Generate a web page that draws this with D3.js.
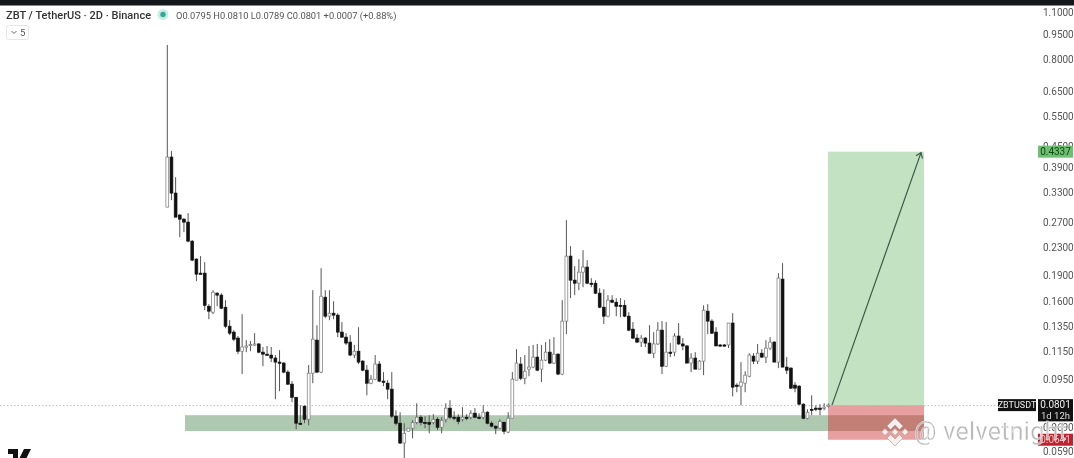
<!DOCTYPE html>
<html><head><meta charset="utf-8">
<script src="https://cdn.jsdelivr.net/npm/d3@7"></script>
<style>
html,body{margin:0;padding:0;background:#fff;overflow:hidden}
svg{display:block;filter:blur(0.45px)}
text{font-family:Roboto,"Liberation Sans",sans-serif}
</style></head><body>
<svg id="c" width="1074" height="458"></svg>
<script>
const opens=[.2997,.4184,.3291,.2843,.2766,.2712,.2389,.2119,.1930,.1930,.1548,.1488,.1689,.1667,.1538,.1355,.1303,.1252,.1147,.1180,.1196,.1200,.1204,.1140,.1125,.1118,.1096,.1067,.1060,.0998,.0921,.0844,.0710,.0795,.0729,.0991,.1235,.0998,.1644,.1449,.1478,.1459,.1303,.1260,.1219,.1118,.1147,.1074,.1011,.0927,.0952,.1053,.0940,.0927,.0891,.0744,.0710,.0622,.0673,.0687,.0714,.0739,.0714,.0714,.0714,.0729,.0691,.0729,.0785,.0739,.0739,.0729,.0739,.0739,.0759,.0739,.0739,.0764,.0710,.0696,.0687,.0714,.0669,.0734,.0946,.1053,.0958,.1018,.1032,.1103,.1018,.1081,.1140,.1060,.1125,.0985,.1402,.2162,.1842,.1805,.1943,.2010,.1805,.1805,.1689,.1538,.1449,.1612,.1590,.1558,.1558,.1449,.1329,.1252,.1219,.1252,.1211,.1132,.1204,.1320,.1038,.1140,.1140,.1269,.1204,.1188,.1060,.1096,.1018,.1074,.1498,.1402,.1303,.1196,.1196,.1196,.1384,.0915,.0909,.0927,.0971,.1110,.1074,.1132,.1103,.1171,.1219,.1067,.1855,.1032,.1025,.0915,.0909,.0806,.0734,.0779,.0785,.0785,.0785,.0795];
const highs=[.883,.4354,.3660,.2860,.2785,.2880,.2405,.2133,.2162,.2077,.1570,.1723,.1700,.1689,.1612,.1411,.1320,.1269,.1468,.1235,.1227,.1294,.1211,.1180,.1188,.1180,.1118,.1155,.1067,.1011,.0940,.0844,.0800,.0800,.1046,.1723,.1364,.1995,.1723,.1723,.1600,.1478,.1393,.1294,.1277,.1196,.1346,.1081,.1046,.0978,.1118,.1074,.0998,.0946,.0998,.0774,.0764,.0710,.0687,.0724,.0811,.0749,.0744,.0749,.0754,.0739,.0739,.0811,.0828,.0769,.0754,.0790,.0754,.0774,.0785,.0759,.0800,.0769,.0719,.0700,.0729,.0719,.0764,.0998,.1163,.1103,.1118,.1188,.1196,.1204,.1196,.1219,.1243,.1260,.1132,.1612,.2748,.2310,.2023,.2119,.2250,.2105,.1866,.1842,.1746,.1734,.1667,.1667,.1634,.1634,.1612,.1488,.1393,.1286,.1277,.1260,.1364,.1303,.1393,.1402,.1393,.1211,.1294,.1384,.1252,.1196,.1132,.1140,.1081,.1558,.1570,.1420,.1346,.1204,.1204,.1384,.1478,.0927,.1067,.1004,.1132,.1132,.1204,.1163,.1235,.1260,.1227,.1930,.2063,.1103,.1032,.0934,.0915,.0811,.0779,.0855,.0800,.0806,.0811,.0810];
const lows=[.2997,.3140,.2803,.2453,.2537,.2373,.2091,.1830,.1917,.1508,.1420,.1468,.1548,.1518,.1337,.1277,.1227,.1125,.0985,.1140,.1147,.1188,.1132,.1038,.1118,.1067,.0833,.0879,.0991,.0915,.0817,.0682,.0705,.0710,.0700,.0927,.0991,.0991,.1430,.1411,.1420,.1260,.1252,.1196,.1110,.1096,.1053,.1004,.0855,.0921,.0946,.0934,.0909,.0833,.0734,.0700,.0618,.0562,.0673,.0642,.0705,.0700,.0687,.0664,.0705,.0678,.0664,.0714,.0729,.0724,.0705,.0719,.0724,.0729,.0734,.0729,.0729,.0705,.0691,.0660,.0682,.0660,.0664,.0734,.0946,.0946,.0921,.0971,.1025,.1004,.0934,.1074,.1053,.1053,.0978,.0978,.1286,.1634,.1667,.1723,.1757,.1793,.1757,.1678,.1528,.1375,.1439,.1580,.1449,.1439,.1439,.1311,.1243,.1211,.1180,.1180,.1132,.1096,.1196,.0985,.1032,.1103,.1110,.1196,.1155,.1060,.0998,.1018,.1018,.0978,.1286,.1286,.1188,.1184,.1184,.1172,.0849,.0873,.0800,.0873,.0965,.1053,.1053,.1096,.1060,.1155,.1067,.1025,.1032,.0985,.0891,.0873,.0800,.0729,.0729,.0749,.0769,.0749,.0774,.0789];
const closes=[.4184,.3291,.2803,.2766,.2712,.2389,.2105,.1917,.1917,.1558,.1498,.1700,.1667,.1528,.1355,.1294,.1243,.1147,.1180,.1188,.1200,.1204,.1140,.1125,.1121,.1096,.1067,.1060,.0998,.0921,.0844,.0710,.0707,.0729,.0991,.1243,.0998,.1655,.1449,.1478,.1459,.1303,.1260,.1211,.1118,.1147,.1067,.1011,.0927,.0952,.1053,.0940,.0934,.0891,.0744,.0710,.0622,.0664,.0687,.0714,.0739,.0714,.0710,.0705,.0729,.0691,.0724,.0785,.0739,.0734,.0719,.0739,.0734,.0759,.0739,.0734,.0764,.0710,.0696,.0687,.0719,.0673,.0734,.0952,.1060,.0958,.1004,.1032,.1103,.1011,.1081,.1140,.1060,.1125,.0985,.1402,.2162,.1842,.1805,.1943,.2010,.1805,.1793,.1689,.1538,.1449,.1612,.1590,.1548,.1548,.1449,.1320,.1252,.1219,.1252,.1211,.1132,.1204,.1320,.1038,.1140,.1132,.1269,.1204,.1188,.1060,.1096,.1018,.1074,.1508,.1402,.1294,.1188,.1188,.1192,.1384,.0903,.0909,.0934,.0978,.1118,.1074,.1132,.1103,.1171,.1219,.1067,.1868,.1032,.1011,.0897,.0897,.0806,.0734,.0764,.0777,.0782,.0779,.0790,.0801];
const tickValues=[1.1,.95,.8,.65,.55,.45,.39,.33,.27,.23,.19,.16,.135,.115,.095,.069,.059];
const symbol="ZBTUSDT", lastPrice=.0801, countdown="1d 12h";
const targetPrice=.4337, stopPrice=.0636, stopLabel="0.0641";
const zoneTop=.0749, zoneBottom=.0674;
const titleText="ZBT / TetherUS · 2D · Binance";
const ohlcText="O0.0795 H0.0810 L0.0789 C0.0801 +0.0007 (+0.88%)";

const svg=d3.select("#c");
const y=d3.scaleLog().domain([1.1,.059]).range([12,451]);
const x=d3.scaleLinear().domain([0,opens.length-1]).range([167.3,828.3]);
const xZoneStart=185, xBoxL=828, xBoxR=924;

svg.append("rect").attr("x",0).attr("y",0).attr("width",1074).attr("height",5.5).attr("fill","#14171c");

svg.append("rect").attr("x",xBoxL).attr("width",xBoxR-xBoxL).attr("y",y(targetPrice)).attr("height",y(lastPrice)-y(targetPrice)).attr("fill","#c2e2c2");
svg.append("rect").attr("x",xBoxL).attr("width",xBoxR-xBoxL).attr("y",y(lastPrice)).attr("height",y(stopPrice)-y(lastPrice)).attr("fill","#e79f9f");
svg.append("rect").attr("x",xZoneStart).attr("width",xBoxL-xZoneStart).attr("y",y(zoneTop)).attr("height",y(zoneBottom)-y(zoneTop)).attr("fill","#afc9b1");
svg.append("rect").attr("x",xBoxL).attr("width",xBoxR-xBoxL).attr("y",y(zoneTop)).attr("height",y(zoneBottom)-y(zoneTop)).attr("fill","#c27f76");

svg.append("line").attr("x1",0).attr("x2",998).attr("y1",y(lastPrice)+.5).attr("y2",y(lastPrice)+.5)
  .attr("stroke","#bbb").attr("stroke-width",1).attr("stroke-dasharray","1.5 2");

const idx=d3.range(opens.length);
svg.append("g").selectAll("line").data(idx).join("line")
  .attr("x1",i=>x(i)).attr("x2",i=>x(i)).attr("y1",i=>y(highs[i])).attr("y2",i=>y(lows[i]))
  .attr("stroke","#555").attr("stroke-width",1);
svg.append("g").selectAll("rect").data(idx).join("rect")
  .attr("x",i=>x(i)-1.4).attr("width",2.8)
  .attr("y",i=>y(Math.max(opens[i],closes[i])))
  .attr("height",i=>Math.max(1.2,Math.abs(y(opens[i])-y(closes[i]))))
  .attr("fill",i=>closes[i]>=opens[i]?"#fff":"#111")
  .attr("stroke",i=>closes[i]>=opens[i]?"#777":"#111").attr("stroke-width",.7);

const ax2=921, ay2=y(targetPrice)+1, ax1=832, ay1=y(lastPrice);
svg.append("line").attr("x1",ax1).attr("y1",ay1).attr("x2",ax2).attr("y2",ay2).attr("stroke","#3a5a48").attr("stroke-width",1.2);
svg.append("path").attr("d",`M${ax2-5},${ay2+3}L${ax2},${ay2}L${ax2+1.5},${ay2+6}`).attr("fill","none").attr("stroke","#3a5a48").attr("stroke-width",1.2);

const axis=d3.axisRight(y).tickValues(tickValues).tickSize(0).tickPadding(0).tickFormat(d3.format(".4f"));
const ag=svg.append("g").attr("transform","translate(1043,0)").call(axis);
ag.select(".domain").remove();
ag.selectAll("text").attr("fill","#555").attr("font-size",10);

function tag(x0,w,yc,h,fill,txt,col,size){
  svg.append("rect").attr("x",x0).attr("y",yc-h/2).attr("width",w).attr("height",h).attr("fill",fill);
  svg.append("text").attr("x",x0+w/2).attr("y",yc+3.3).attr("text-anchor","middle").attr("fill",col).attr("font-size",size||10).text(txt);
}
tag(1038,35,y(targetPrice),12,"#6fbe72",d3.format(".4f")(targetPrice),"#0c4a12");
tag(998,38,y(lastPrice),12,"#111",symbol,"#eee",9);
tag(1038,35,y(lastPrice),12,"#111",d3.format(".4f")(lastPrice),"#eee");
tag(1038,35,y(lastPrice)+11,10.5,"#111",countdown,"#ddd",9.5);
tag(1038,35,y(stopPrice),12,"#c0212f",stopLabel,"#f0c0c0");

svg.append("text").attr("x",6).attr("y",19).attr("font-size",11).attr("font-weight",500).attr("fill","#333").text(titleText);
svg.append("circle").attr("cx",163).attr("cy",14.5).attr("r",5.5).attr("fill","#c9ece6");
svg.append("circle").attr("cx",163).attr("cy",14.5).attr("r",2.7).attr("fill","#35a898");
svg.append("text").attr("x",176).attr("y",18.5).attr("font-size",9.3).attr("fill","#555").text(ohlcText);
svg.append("rect").attr("x",6.5).attr("y",25.5).attr("width",22).attr("height",14).attr("rx",2).attr("fill","#fff").attr("stroke","#e6e6e6");
svg.append("path").attr("d","M11.5,31L14,33.5L16.5,31").attr("fill","none").attr("stroke","#666");
svg.append("text").attr("x",20).attr("y",35.5).attr("font-size",9.5).attr("fill","#555").text("5");

svg.append("path").attr("d","M8,449H18V459H13V454H8Z M24,449H31L26,459H19Z").attr("fill","#111");

const logo=svg.append("g").attr("transform","translate(895,432)").attr("fill","#f7efed").attr("stroke","#b99d98").attr("stroke-width",.7);
logo.append("path").attr("d","M0,-14L8,-6L4.5,-2.5L0,-7L-4.5,-2.5L-8,-6Z");
logo.append("path").attr("d","M0,14L8,6L4.5,2.5L0,7L-4.5,2.5L-8,6Z");
logo.append("path").attr("d","M-13.5,0L-10,-3.5L-6.5,0L-10,3.5Z");
logo.append("path").attr("d","M13.5,0L10,-3.5L6.5,0L10,3.5Z");
logo.append("path").attr("d","M0,-3.5L3.5,0L0,3.5L-3.5,0Z");
svg.append("text").attr("x",914).attr("y",440).attr("font-size",25).attr("letter-spacing",.3).attr("fill","#b8b8b8").attr("stroke","#fff").attr("stroke-width",.3).text("@ velvetnight");
</script>
</body></html>
